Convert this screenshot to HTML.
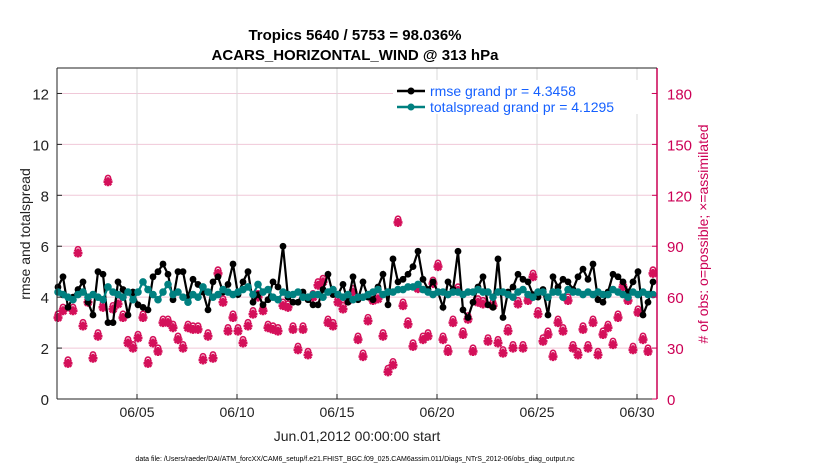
<!DOCTYPE html>
<html><head><meta charset="utf-8"><style>
body{margin:0;background:#fff;}
svg{display:block;font-family:"Liberation Sans",sans-serif;}
</style></head><body>
<svg id="chart" width="830" height="470">
<g id="grid"></g>
<g id="marks"></g>
<g id="axes"></g>
<text x="355" y="40" text-anchor="middle" font-size="15" font-weight="bold">Tropics 5640 / 5753 = 98.036%</text>
<text x="355" y="60" text-anchor="middle" font-size="15" font-weight="bold">ACARS_HORIZONTAL_WIND @ 313 hPa</text>
<text transform="translate(30,234) rotate(-90)" text-anchor="middle" font-size="14" fill="#222">rmse and totalspread</text>
<text transform="translate(708,234) rotate(-90)" text-anchor="middle" font-size="14" fill="#cc0055"># of obs: o=possible; ×=assimilated</text>
<text x="357" y="441" text-anchor="middle" font-size="14" fill="#222">Jun.01,2012 00:00:00 start</text>
<text x="355" y="461" text-anchor="middle" font-size="7" fill="#000">data file: /Users/raeder/DAI/ATM_forcXX/CAM6_setup/f.e21.FHIST_BGC.f09_025.CAM6assim.011/Diags_NTrS_2012-06/obs_diag_output.nc</text>
<g>
<rect x="393" y="80" width="258" height="34" fill="#fff"/>
<g>
<line x1="397" y1="91" x2="425" y2="91" stroke="#000" stroke-width="2.5"/><circle cx="411" cy="91" r="3.5" fill="#000"/>
<text x="430" y="96" font-size="14" fill="#1560ff">rmse grand pr = 4.3458</text></g>
<g>
<line x1="397" y1="107" x2="425" y2="107" stroke="#008080" stroke-width="2.5"/><circle cx="411" cy="107" r="3.5" fill="#008080"/>
<text x="430" y="112" font-size="14" fill="#1560ff">totalspread grand pr = 4.1295</text></g>
</g>
</svg>
<script>
const dayTicks=[5,10,15,20,25,30];
const dayTickLabels=["06/05","06/10","06/15","06/20","06/25","06/30"];
const leftTicks=[0,2,4,6,8,10,12];
const rightTicks=[0,30,60,90,120,150,180];
const rmse=[4.4,4.8,3.6,4.0,4.3,4.6,3.8,3.3,5.0,4.9,3.0,3.0,4.6,4.3,3.3,4.2,3.7,3.6,3.5,4.8,
5.0,5.3,4.9,3.9,5.0,5.0,4.0,4.7,4.5,4.2,3.5,4.6,4.8,4.2,4.5,5.3,4.1,4.6,5.0,3.8,
4.1,3.7,3.9,4.6,4.4,6.0,4.0,3.8,3.8,4.2,3.9,3.7,3.7,4.3,4.9,4.1,4.1,4.5,3.8,4.8,
3.9,4.6,4.0,3.9,4.4,4.9,3.7,5.5,4.6,4.7,4.9,5.2,5.8,4.7,4.3,4.6,4.2,3.6,4.6,4.3,
5.8,3.5,3.2,3.8,4.4,4.8,3.7,3.6,5.5,3.2,4.2,4.4,4.9,4.7,4.6,4.1,4.0,4.3,3.3,4.8,
4.4,4.7,4.6,4.3,4.8,5.1,4.7,5.3,3.9,3.8,4.2,4.9,4.8,4.6,4.2,4.6,5.0,3.3,3.8,4.6];
const spread=[4.2,4.1,4.0,3.9,4.1,4.2,4.0,4.1,4.0,3.9,4.4,4.2,4.1,4.0,4.2,3.9,4.2,4.6,4.3,4.1,
3.9,4.2,4.5,4.1,4.2,4.0,3.8,4.1,4.0,4.4,4.2,4.0,4.1,4.3,4.2,4.1,4.2,4.3,4.4,4.1,
4.5,4.2,4.3,4.0,3.9,4.2,4.1,4.1,4.2,4.0,4.0,4.1,4.1,4.0,4.2,4.3,4.1,4.0,4.1,3.9,
4.0,4.0,4.1,4.2,4.3,4.1,4.2,4.2,4.3,4.3,4.4,4.4,4.5,4.3,4.2,4.1,4.2,4.2,4.1,4.2,
4.2,4.1,4.2,4.2,4.3,4.2,4.2,4.0,4.2,4.2,4.1,4.0,4.2,4.3,4.1,4.0,4.2,4.2,4.0,4.2,
4.2,4.0,4.3,4.2,4.2,4.1,4.2,4.1,4.2,4.1,4.1,4.3,4.2,4.1,4.0,4.2,4.1,4.2,4.1,4.1];
const obsAssim=[48,52,21,52,86,43,57,24,37,54,128,53,56,48,33,30,36,48,21,33,
28,45,45,42,35,30,42,41,41,23,37,24,74,57,40,48,40,33,43,50,
60,52,42,41,40,55,54,41,29,41,26,60,67,69,45,43,57,53,58,63,
35,25,46,58,59,37,16,20,104,55,44,31,65,35,37,68,78,35,28,45,
64,38,47,28,57,56,34,55,33,27,40,30,56,30,58,72,50,34,38,25,
45,40,58,30,26,41,30,45,26,38,42,32,48,66,58,29,51,35,28,74];
const obsPoss=obsAssim.map(v=>v+1);
const X0=57,X1=657,Y0=399,Y1=68,D0=1,D1=31,LMAX=13,RMAX=195;
const xDay=d=>X0+(d-D0)/(D1-D0)*(X1-X0);
const xIdx=i=>xDay(1+i/4+0.05);
const yL=v=>Y0-v/LMAX*(Y0-Y1);
const yR=v=>Y0-v/RMAX*(Y0-Y1);
const NS="http://www.w3.org/2000/svg";
function mk(parent,tag,attrs){const e=document.createElementNS(NS,tag);for(const k in attrs)e.setAttribute(k,attrs[k]);parent.appendChild(e);return e;}
const grid=document.getElementById('grid'),marks=document.getElementById('marks'),axes=document.getElementById('axes');
mk(grid,'rect',{x:X0,y:Y1,width:X1-X0,height:Y0-Y1,fill:'#fff'});
rightTicks.forEach(t=>{if(t===0)return;const l=mk(grid,'line',{x1:X0,x2:X1,y1:yR(t),y2:yR(t),stroke:'#f0c8d8','stroke-width':1});

});
dayTicks.forEach((d,i)=>{const l=mk(grid,'line',{x1:xDay(d),x2:xDay(d),y1:Y1,y2:Y0,stroke:'#d8d8d8','stroke-width':1});


const t=mk(axes,'text',{x:xDay(d),y:Y0+18,'text-anchor':'middle','font-size':14,fill:'#222'});t.textContent=dayTickLabels[i];


mk(axes,'line',{x1:xDay(d),x2:xDay(d),y1:Y0,y2:Y0-5,stroke:'#222'});});
obsAssim.forEach((v,i)=>{const x=xIdx(i);
const c=mk(marks,'circle',{cx:x,cy:yR(obsPoss[i])-2,r:2.6,fill:'none',stroke:'#d4105a','stroke-width':1.6});


const y=yR(v);
const s=mk(marks,'path',{d:`M${x-4.5} ${y}H${x+4.5}M${x} ${y-4.5}V${y+4.5}M${x-3.3} ${y-3.3}L${x+3.3} ${y+3.3}M${x-3.3} ${y+3.3}L${x+3.3} ${y-3.3}`,stroke:'#d4105a','stroke-width':2.6});

});
function series(vals,col,name,r){
const p=mk(marks,'polyline',{points:vals.map((v,i)=>xIdx(i)+','+yL(v)).join(' '),fill:'none',stroke:col,'stroke-width':2.2});


vals.forEach((v,i)=>{const c=mk(marks,'circle',{cx:xIdx(i),cy:yL(v),r:r,fill:col});

});}
series(rmse,'#000','rmse',3.4);
series(spread,'#008080','totalspread',3.8);
mk(axes,'line',{x1:X0,x2:X1,y1:Y0,y2:Y0,stroke:'#222','stroke-width':1});
mk(axes,'line',{x1:X0,x2:X0,y1:Y1,y2:Y0,stroke:'#222','stroke-width':1});
mk(axes,'line',{x1:X1,x2:X1,y1:Y1,y2:Y0,stroke:'#cc0055','stroke-width':1.5});
mk(axes,'line',{x1:X0,x2:X1,y1:Y1,y2:Y1,stroke:'#222','stroke-width':1});
leftTicks.forEach(t=>{mk(axes,'line',{x1:X0,x2:X0+5,y1:yL(t),y2:yL(t),stroke:'#222'});
const e=mk(axes,'text',{x:X0-8,y:yL(t)+6,'text-anchor':'end','font-size':15,fill:'#222'});e.textContent=t;

});
rightTicks.forEach(t=>{mk(axes,'line',{x1:X1,x2:X1-5,y1:yR(t),y2:yR(t),stroke:'#cc0055'});
const e=mk(axes,'text',{x:X1+10,y:yR(t)+6,'font-size':15,fill:'#cc0055'});e.textContent=t;

});
</script>
</body></html>
